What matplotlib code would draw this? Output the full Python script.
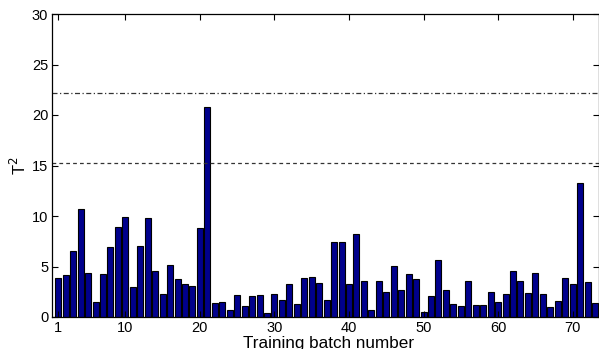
import matplotlib
matplotlib.use("Agg")
import matplotlib.pyplot as plt
import numpy as np

plt.rcParams['font.family'] = ['Liberation Sans', 'DejaVu Sans']

# T^2 statistic per training batch
batch = list(range(1, 74))
t2 = [3.86, 4.19, 6.53, 10.69, 4.32, 1.49, 4.26, 6.96, 8.91, 9.87,
      3.00, 7.03, 9.77, 4.59, 2.28, 5.18, 3.80, 3.23, 3.08, 8.83,
      20.77, 1.42, 1.49, 0.69, 2.18, 1.06, 2.08, 2.18, 0.40, 2.25,
      1.65, 3.24, 1.32, 3.87, 4.00, 3.41, 1.65, 7.41, 7.41, 3.24,
      8.17, 3.61, 0.66, 3.54, 2.51, 5.06, 2.70, 4.27, 3.74, 0.53,
      2.08, 5.62, 2.68, 1.26, 1.09, 3.54, 1.16, 1.16, 2.51, 1.52,
      2.32, 4.53, 3.61, 2.41, 4.40, 2.28, 1.03, 1.62, 3.90, 3.31,
      13.27, 3.51, 1.39]

# control limits
limit_99 = 22.13
limit_95 = 15.28

xticks = [1, 10, 20, 30, 40, 50, 60, 70]
yticks = [0, 5, 10, 15, 20, 25, 30]

fig = plt.figure(figsize=(5.99, 3.49), dpi=100)
ax = fig.add_axes([52.3 / 599, 1 - 317 / 349, (598.5 - 52.3) / 599, (317 - 14) / 349])

ax.bar(batch, t2, width=0.8, color='#00008c', edgecolor='black', linewidth=0.8)
ax.axhline(limit_99, color='#333333', linestyle=(0, (4, 2, 1, 2)), linewidth=0.9)
ax.axhline(limit_95, color='#333333', linestyle=(0, (3, 2.5)), linewidth=0.9)

ax.set_xlim(0.2, 73.47)
ax.set_ylim(0, 30)
ax.set_xticks(xticks)
ax.set_yticks(yticks)
ax.tick_params(direction='in', length=4, width=0.8, top=True, right=True,
               labelsize=10.5, pad=3)
for s in ax.spines.values():
    s.set_linewidth(0.9)

ax.set_ylabel('T$^2$', fontsize=12)
ax.yaxis.set_label_coords(-0.042, 0.5)
ax.set_xlabel('Training batch number', fontsize=12.3)
ax.xaxis.set_label_coords(0.505, -0.064)

fig.savefig('out.png', dpi=100)
